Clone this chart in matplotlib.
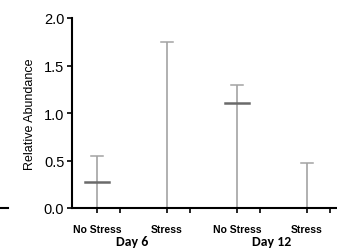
import matplotlib.pyplot as plt
from matplotlib.lines import Line2D

# data
groups = ['No Stress', 'Stress', 'No Stress', 'Stress']
days = ['Day 6', 'Day 12']
means = [0.27, 0.0, 1.11, 0.0]
upper = [0.55, 1.75, 1.30, 0.47]

plt.rcParams['font.family'] = ['Liberation Sans', 'DejaVu Sans']

fig = plt.figure(figsize=(3.37, 2.53), dpi=100)
ax = fig.add_axes([72 / 337, 1 - 209 / 253, 1 - 72 / 337, (209 - 19) / 253])

x = list(range(len(groups)))
for xi, m, u in zip(x, means, upper):
    # error line from the baseline up to the upper bound, with a small cap
    ax.plot([xi, xi], [0, u], color='#a3a3a3', lw=1.2, solid_capstyle='butt', zorder=2)
    ax.plot([xi - 0.08, xi + 0.08], [u, u], color='#a3a3a3', lw=1.1, zorder=2)
    if m > 0:
        ax.plot([xi - 0.17, xi + 0.17], [m, m], color='#6a6a6a', lw=1.8, zorder=3)

ax.set_xlim(-0.357, 3.43)
ax.set_ylim(0, 2.0)
ax.set_yticks([0, 0.5, 1.0, 1.5, 2.0])
ax.set_yticklabels(['0.0', '0.5', '1.0', '1.5', '2.0'], fontsize=10.5)
ax.set_xticks(x)
ax.set_xticklabels(groups, fontsize=7.5, fontweight='bold')
ax.set_xticks([xi + 0.33 for xi in x], minor=True)
ax.tick_params(axis='both', which='both', direction='out', length=3.5, width=1.2, pad=2)
ax.tick_params(axis='x', which='major', pad=8)
ax.set_ylabel('Relative Abundance', fontsize=9, labelpad=6)

for s in ['top', 'right']:
    ax.spines[s].set_visible(False)
for s in ['left', 'bottom']:
    ax.spines[s].set_linewidth(1.5)

# day group labels under the ticks
for i, d in enumerate(days):
    ax.text(2 * i + 0.5, -0.175, d, transform=ax.get_xaxis_transform(),
            ha='center', va='center', fontsize=10, fontweight='bold',
            family=['Carlito', 'Liberation Sans', 'DejaVu Sans'])

# edge of the neighbouring panel on the left
fig.add_artist(Line2D([0, 8 / 337], [1 - 209 / 253, 1 - 209 / 253],
                      color='black', lw=1.5))

fig.savefig('out.png', dpi=100)
